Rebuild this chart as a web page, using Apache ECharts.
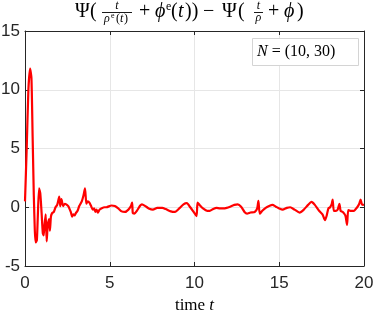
<!DOCTYPE html>
<html><head><meta charset="utf-8">
<script src="https://cdn.jsdelivr.net/npm/echarts@6/dist/echarts.min.js"></script>
<style>html,body{margin:0;padding:0;background:#fff}#c{width:374px;height:312px}</style>
</head><body><div id="c"></div>
<script>
const tData = [0.0,0.1,0.2,0.3,0.38,0.45,0.52,0.58,0.63,0.7,0.75,0.83,0.9,0.98,1.05,1.1,1.15,1.22,1.28,1.34,1.42,1.47,1.53,1.6,1.7,1.8,1.9,2.02,2.08,2.15,2.25,2.35,2.55,2.7,2.78,2.85,2.92,3.0,3.1,3.2,3.35,3.45,3.54,3.62,3.7,3.8,3.9,4.0,4.08,4.15,4.22,4.3,4.4,4.5,4.7,4.8,5.1,5.3,5.5,5.7,5.9,6.1,6.25,6.32,6.36,6.45,6.6,6.8,6.9,7.1,7.3,7.55,7.8,8.1,8.3,8.6,8.85,9.1,9.35,9.55,9.75,9.95,10.12,10.18,10.3,10.5,10.75,10.9,11.1,11.3,11.5,11.7,11.9,12.1,12.35,12.55,12.75,12.95,13.1,13.3,13.55,13.7,13.77,13.85,14.0,14.2,14.4,14.6,14.8,15.0,15.2,15.45,15.65,15.9,16.2,16.45,16.7,16.9,17.1,17.35,17.55,17.7,17.8,17.9,18.0,18.1,18.15,18.22,18.35,18.45,18.55,18.62,18.75,18.9,19.0,19.07,19.2,19.4,19.6,19.72,19.8,19.88,20.0];
const vData = [0.5,5,10,11.8,11,6,1,-2,-3.0,-2.8,-1,1.6,1.2,-0.5,-2.2,-2.4,-1.5,-0.6,-2.9,-1.5,-1.0,-2.0,-0.8,-0.5,-0.4,0.0,0.2,0.9,0.1,0.7,0.1,0.3,0.1,-0.4,-0.8,-0.6,-0.7,-0.5,-0.3,0.1,0.5,1.0,1.6,0.3,0.5,0.4,0.1,-0.2,-0.1,-0.4,-0.2,-0.45,-0.2,-0.1,0.0,0.0,0.15,0.1,-0.1,-0.35,-0.4,-0.2,0.1,0.4,-0.5,-0.55,-0.3,0.15,0.25,0.1,-0.1,-0.2,-0.05,-0.05,-0.15,-0.35,-0.4,-0.1,0.25,0.35,0.0,-0.4,-0.75,0.4,0.2,-0.1,-0.3,-0.3,-0.15,-0.05,-0.1,-0.1,-0.05,0.05,0.2,0.25,0.05,-0.4,-0.55,-0.45,-0.4,-0.1,0.55,-0.55,-0.3,-0.05,0.1,0.2,0.05,-0.1,-0.2,-0.05,0.0,-0.2,-0.45,-0.2,0.2,0.45,0.2,-0.3,-0.6,-1.1,-0.7,-0.1,0.0,0.3,0.65,-0.3,-0.3,-0.2,0.3,-0.3,-0.4,-0.7,-1.5,-0.25,-0.3,-0.3,0.0,0.3,0.65,0.25,0.2];
const xRange = [0, 20, 5];
const yRange = [-5, 15, 5];
const legendText = 'N = (10, 30)';

const serif = 'Liberation Serif';
const sans = 'Liberation Sans';
const ink = '#262626';
const chart = echarts.init(document.getElementById('c'), null, {renderer: 'canvas'});

function txt(x, y, s, size, italic, align) {
  return {type: 'text', x: x, y: y, style: {text: s, font: (italic ? 'italic ' : '') + size + 'px "' + serif + '"', fill: '#000', textAlign: align || 'left', textVerticalAlign: 'middle'}};
}
const titleEls = [
  txt(75, 12, 'Ψ', 20),
  txt(90, 12, '(', 20),
  txt(117, 6, 't', 12, true, 'center'),
  {type: 'line', shape: {x1: 102, y1: 12.5, x2: 132, y2: 12.5}, style: {stroke: '#000', lineWidth: 0.9}},
  txt(104, 19, 'ρ', 12, true),
  txt(111, 16, 'e', 8),
  txt(116, 19, '(', 12),
  txt(120, 19, 't', 12, true),
  txt(124, 19, ')', 12),
  txt(139, 12, '+', 20),
  txt(155, 12, 'ϕ', 20, true),
  txt(166, 7, 'e', 12),
  txt(171, 12, '(', 20),
  txt(178, 12, 't', 20, true),
  txt(185, 12, '))', 20),
  txt(203, 12, '−', 20),
  txt(222, 12, 'Ψ', 20),
  txt(238, 12, '(', 20),
  txt(258.5, 6, 't', 12, true, 'center'),
  {type: 'line', shape: {x1: 254, y1: 12.5, x2: 263, y2: 12.5}, style: {stroke: '#000', lineWidth: 0.9}},
  txt(258.5, 18, 'ρ', 12, true, 'center'),
  txt(268, 12, '+', 20),
  txt(284, 12, 'ϕ', 20, true),
  txt(297, 12, ')', 20)
];

const legendEls = [
  {type: 'rect', shape: {x: 252.5, y: 38.5, width: 106, height: 27}, style: {fill: '#fff', stroke: '#d4d4d4', lineWidth: 1}, z: 100},
  {type: 'text', x: 257, y: 52, z: 101, style: {
    text: '{i|' + legendText.charAt(0) + '}{r|' + legendText.slice(1) + '}',
    textVerticalAlign: 'middle',
    rich: {i: {font: 'italic 16px "' + serif + '"', fill: '#000'}, r: {font: '16px "' + serif + '"', fill: '#000'}}
  }}
];

const axisCommon = {
  axisLine: {show: true, onZero: false, lineStyle: {color: ink, width: 1}},
  axisTick: {show: true, inside: true, length: 4, lineStyle: {color: ink}},
};

chart.setOption({
  animation: false,
  grid: {left: 25, right: 10, top: 31, bottom: 46, containLabel: false, outerBoundsMode: 'none'},
  xAxis: [
    Object.assign({type: 'value', min: xRange[0], max: xRange[1], interval: xRange[2], position: 'bottom',
      axisLabel: {color: ink, fontSize: 17, fontFamily: sans, margin: 9},
      splitLine: {show: true, lineStyle: {color: '#e6e6e6', width: 1}},
      name: 'time {i|t}', nameLocation: 'middle', nameGap: 28,
      nameTextStyle: {fontFamily: serif, fontSize: 17, color: '#000', rich: {i: {fontFamily: serif, fontStyle: 'italic', fontSize: 17, color: '#000'}}}
    }, axisCommon),
    Object.assign({type: 'value', min: xRange[0], max: xRange[1], interval: xRange[2], position: 'top',
      axisLabel: {show: false}, splitLine: {show: false}}, axisCommon)
  ],
  yAxis: [
    Object.assign({type: 'value', min: yRange[0], max: yRange[1], interval: yRange[2], position: 'left',
      axisLabel: {color: ink, fontSize: 17, fontFamily: sans, margin: 5},
      splitLine: {show: true, lineStyle: {color: '#e6e6e6', width: 1}}
    }, axisCommon),
    Object.assign({type: 'value', min: yRange[0], max: yRange[1], interval: yRange[2], position: 'right',
      axisLabel: {show: false}, splitLine: {show: false}}, axisCommon)
  ],
  series: [{
    type: 'line', xAxisIndex: 0, yAxisIndex: 0,
    data: tData.map((t, i) => [t, vData[i]]),
    showSymbol: false, smooth: 0.2,
    lineStyle: {color: '#ff0000', width: 2.2},
    z: 5
  }],
  graphic: titleEls.concat(legendEls)
});
</script></body></html>
